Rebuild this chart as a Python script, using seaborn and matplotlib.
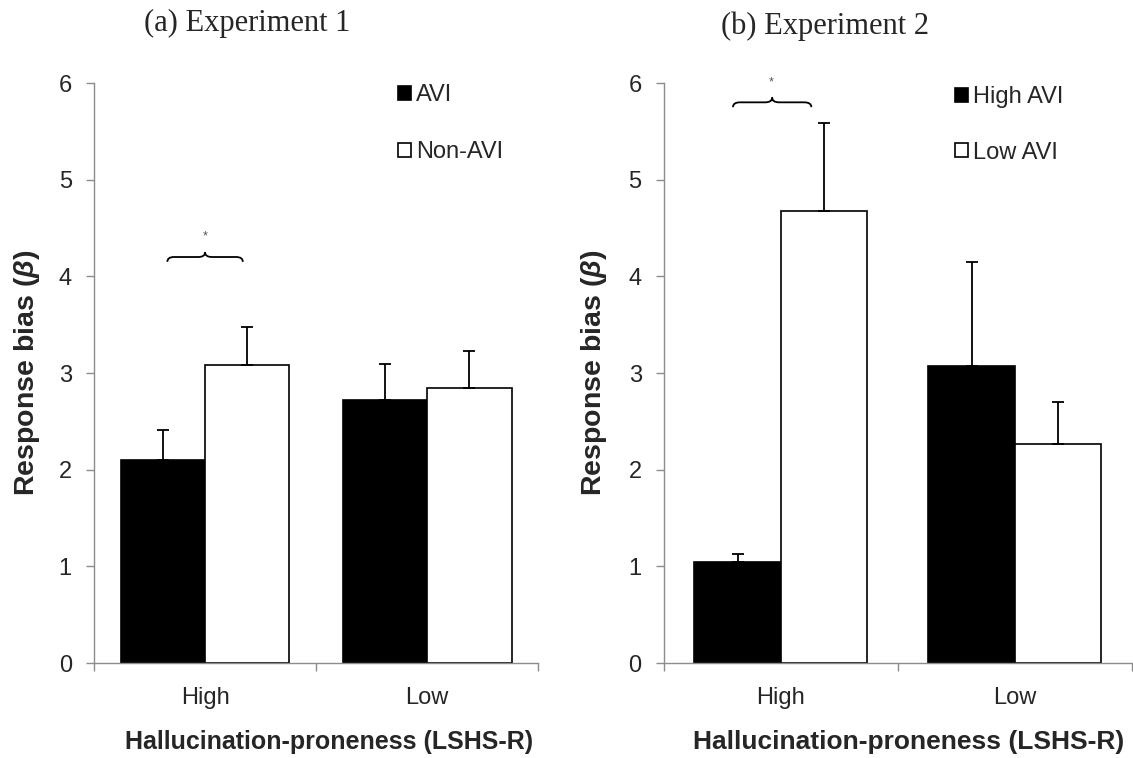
import numpy as np
import pandas as pd
import matplotlib
matplotlib.use("Agg")
import matplotlib.pyplot as plt
import seaborn as sns
from matplotlib.path import Path
from matplotlib.patches import PathPatch

# ---- data ----
groups = ["High", "Low"]
exp1_conditions = ["AVI", "Non-AVI"]
exp1_means = {"AVI": [2.10, 2.72], "Non-AVI": [3.08, 2.85]}
exp1_err = {"AVI": [0.31, 0.37], "Non-AVI": [0.40, 0.38]}
exp2_conditions = ["High AVI", "Low AVI"]
exp2_means = {"High AVI": [1.04, 3.07], "Low AVI": [4.68, 2.27]}
exp2_err = {"High AVI": [0.09, 1.08], "Low AVI": [0.91, 0.43]}
titles = ["(a) Experiment 1", "(b) Experiment 2"]
xlabel = "Hallucination-proneness (LSHS-R)"
ylabel = r"Response bias ($\mathbfit{\beta}$)"
yticks = [0, 1, 2, 3, 4, 5, 6]

sns.set_theme(style="white")
plt.rcParams["font.family"] = ["Liberation Sans", "DejaVu Sans"]
plt.rcParams["mathtext.fontset"] = "custom"
plt.rcParams["mathtext.rm"] = "Liberation Sans"
plt.rcParams["mathtext.bf"] = "Liberation Sans:bold"
plt.rcParams["mathtext.it"] = "Liberation Sans:italic"
plt.rcParams["mathtext.bfit"] = "Liberation Sans:italic:bold"

fig = plt.figure(figsize=(11.33, 7.58), dpi=100)
ax1 = fig.add_axes([0.083, 0.1253, 0.392, 0.7652])
ax2 = fig.add_axes([0.586, 0.1253, 0.413, 0.7652])

GRAY = "#8c8c8c"


def brace(ax, x0, x1, y, h, d=0.03):
    xm = (x0 + x1) / 2
    verts = [(x0, y - h), (x0, y), (x0 + d, y),
             (xm - d, y), (xm, y), (xm, y + h),
             (xm, y), (xm + d, y),
             (x1 - d, y), (x1, y), (x1, y - h)]
    codes = [Path.MOVETO, Path.CURVE3, Path.CURVE3,
             Path.LINETO, Path.CURVE3, Path.CURVE3,
             Path.CURVE3, Path.CURVE3,
             Path.LINETO, Path.CURVE3, Path.CURVE3]
    ax.add_patch(PathPatch(Path(verts, codes), fill=False, lw=1.3,
                           edgecolor="black", clip_on=False))


def panel(ax, conds, means, errs, leg_x, leg_y, lspace, width, ylab_x, xlab_x, xlab_size):
    df = pd.DataFrame({
        "group": [g for c in conds for g in groups],
        "cond": [c for c in conds for g in groups],
        "value": [v for c in conds for v in means[c]],
        "err": [e for c in conds for e in errs[c]],
    })
    sns.barplot(data=df, x="group", y="value", hue="cond", hue_order=conds,
                order=groups, palette=["black", "white"], edgecolor="black",
                linewidth=1.2, width=width, gap=0, errorbar=None, ax=ax,
                saturation=1)
    bars = [p for p in ax.patches if p.get_height() > 0][:len(df)]
    for p, (_, row) in zip(bars, df.iterrows()):
        xc = p.get_x() + p.get_width() / 2
        ax.errorbar(xc, row["value"], yerr=[[0], [row["err"]]], fmt="none",
                    ecolor="black", elinewidth=1.3, capsize=4.5, capthick=1.3)
    ax.set_ylim(0, 6)
    ax.set_xlim(-0.5, 1.5)
    ax.set_yticks(yticks)
    ax.set_yticklabels([str(t) for t in yticks], fontsize=17)
    ax.set_xticks([0, 1])
    ax.set_xticklabels(groups, fontsize=17)
    ax.set_xticks([-0.5, 0.5, 1.5], minor=True)
    ax.tick_params(axis="x", which="major", length=0, pad=17)
    ax.tick_params(axis="x", which="minor", length=6, width=1, color=GRAY, direction="out",
                   bottom=True)
    ax.tick_params(axis="y", which="major", length=6, width=1, color=GRAY, direction="out",
                   pad=10, left=True)
    for s in ["top", "right"]:
        ax.spines[s].set_visible(False)
    for s in ["left", "bottom"]:
        ax.spines[s].set_color(GRAY)
        ax.spines[s].set_linewidth(1)
    ax.set_xlabel(xlabel, fontsize=xlab_size, fontweight="bold", va="center")
    ax.xaxis.set_label_coords(xlab_x, -0.136)
    ax.set_ylabel(ylabel, fontsize=20.5, fontweight="bold", va="center")
    ax.yaxis.set_label_coords(ylab_x, 0.5)
    ax.legend(loc="upper left", bbox_to_anchor=(leg_x, leg_y), frameon=False,
              fontsize=17, handlelength=0.55, handleheight=0.55, handletextpad=0.2,
              labelspacing=lspace, borderaxespad=0, borderpad=0)
    return bars


panel(ax1, exp1_conditions, exp1_means, exp1_err, 0.685, 0.998, 1.48, 0.76, -0.152, 0.53, 18)
panel(ax2, exp2_conditions, exp2_means, exp2_err, 0.622, 0.994, 1.40, 0.74, -0.150, 0.523, 19)

fig.text(247 / 1133, 1 - 23 / 758, titles[0], ha="center", va="center", fontsize=22,
         family=["Liberation Serif"])
fig.text(825 / 1133, 1 - 26 / 758, titles[1], ha="center", va="center", fontsize=22,
         family=["Liberation Serif"])

brace(ax1, -0.17, 0.17, 4.2, 0.05)
ax1.text(0.0, 4.41, "*", ha="center", va="center", fontsize=9, color="#555555")
brace(ax2, -0.205, 0.13, 5.80, 0.05)
ax2.text(-0.04, 6.01, "*", ha="center", va="center", fontsize=9, color="#555555")

fig.savefig("out.png", dpi=100)
